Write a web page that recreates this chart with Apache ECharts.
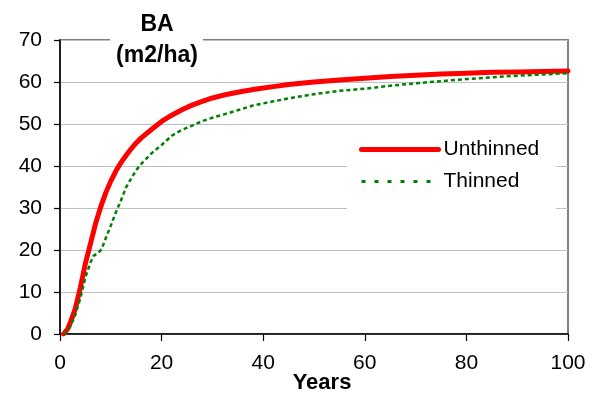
<!DOCTYPE html>
<html>
<head>
<meta charset="utf-8">
<script src="https://cdn.jsdelivr.net/npm/echarts@6/dist/echarts.min.js"></script>
<style>
  html, body { margin: 0; padding: 0; background: #fff; }
  #chart { width: 597px; height: 397px; }
</style>
</head>
<body>
<div id="chart"></div>
<script>
// Basal area (m2/ha) over stand age, unthinned vs thinned
const unthinnedYears = [0.7, 1.5, 2, 3, 4, 5, 6, 7, 8, 9, 10, 11, 12, 13, 14, 15, 16, 18, 20, 22, 24, 26, 28, 30, 33, 36, 39, 42, 45, 50, 55, 60, 65, 70, 75, 80, 85, 90, 95, 100];
const unthinnedBA    = [0, 1.2, 2.6, 6.0, 11.0, 16.8, 21.5, 26.3, 30.2, 33.6, 36.4, 38.8, 40.8, 42.5, 44.1, 45.5, 46.7, 48.7, 50.6, 52.1, 53.4, 54.5, 55.4, 56.2, 57.1, 57.8, 58.4, 58.9, 59.4, 60.0, 60.5, 60.9, 61.3, 61.6, 61.9, 62.1, 62.3, 62.4, 62.5, 62.6];

const thinnedYears = [0.7, 1.5, 2, 3, 4, 5, 6, 6.6, 7.5, 8.2, 9, 10, 11, 12, 13, 14, 15, 16, 18, 20, 22, 24, 26, 28, 30, 34, 38, 42, 46, 50, 55, 60, 65, 70, 75, 80, 86, 90, 95, 100];
const thinnedBA    = [0, 0.8, 1.7, 4.5, 8.5, 13.5, 17.0, 18.6, 19.3, 20.2, 22.8, 25.8, 29.0, 31.8, 34.9, 37.0, 39.0, 40.5, 43.0, 45.0, 47.2, 48.6, 49.6, 50.7, 51.5, 52.9, 54.4, 55.4, 56.3, 57.1, 57.9, 58.4, 59.1, 59.7, 60.2, 60.7, 61.2, 61.5, 61.8, 62.1];

const seriesNames = ['Unthinned', 'Thinned'];
const xTicks = [0, 20, 40, 60, 80, 100];
const yTicks = [0, 10, 20, 30, 40, 50, 60, 70];

const FONT = 'Liberation Sans, Arial, sans-serif';

function pairs(xs, ys) { return xs.map((x, i) => [x, ys[i]]); }

const chart = echarts.init(document.getElementById('chart'), null, { renderer: 'canvas' });

chart.setOption({
  animation: false,
  backgroundColor: '#ffffff',
  textStyle: { fontFamily: FONT },
  grid: {
    left: 60, right: 29, top: 40, bottom: 63,
    show: true, borderColor: '#808080', borderWidth: 2
  },
  xAxis: {
    type: 'value',
    min: xTicks[0], max: xTicks[xTicks.length - 1], interval: 20,
    axisLine: { lineStyle: { color: '#000', width: 1.5 } },
    axisTick: { inside: false, length: 7, lineStyle: { color: '#000', width: 1.2 } },
    axisLabel: { color: '#000', fontSize: 21, fontFamily: FONT, margin: 19 },
    splitLine: { show: false }
  },
  yAxis: {
    type: 'value',
    min: yTicks[0], max: yTicks[yTicks.length - 1], interval: 10,
    axisLine: { show: true, lineStyle: { color: '#000', width: 1.5 } },
    axisTick: { show: true, inside: false, length: 6, lineStyle: { color: '#000', width: 1.2 } },
    axisLabel: { color: '#000', fontSize: 21, fontFamily: FONT, margin: 18 },
    splitLine: { show: true, lineStyle: { color: '#c0c0c0', width: 1 } }
  },
  legend: {
    orient: 'vertical',
    left: 347, top: 125,
    backgroundColor: '#ffffff',
    padding: [14, 17, 19, 12],
    itemWidth: 77, itemHeight: 14, itemGap: 11,
    textStyle: { fontSize: 21, fontFamily: FONT, color: '#000', lineHeight: 20 },
    data: [
      { name: seriesNames[0], itemStyle: { opacity: 0 }, lineStyle: { color: '#ff0000', width: 5 } },
      { name: seriesNames[1], itemStyle: { opacity: 0 }, lineStyle: { color: '#008000', width: 3, type: [4, 9] } }
    ]
  },
  graphic: [
    {
      type: 'rect', z: 100,
      shape: { x: 110, y: 30, width: 93, height: 22 },
      style: { fill: '#ffffff' }
    },
    {
      type: 'text', z: 101,
      style: {
        text: 'BA\n(m2/ha)', x: 157, y: 40,
        align: 'center', verticalAlign: 'middle',
        font: 'bold 23px ' + FONT, lineHeight: 31, fill: '#000'
      }
    },
    {
      type: 'text', z: 101,
      style: {
        text: 'Years', x: 322, y: 383,
        align: 'center', verticalAlign: 'middle',
        font: 'bold 22px ' + FONT, fill: '#000'
      }
    }
  ],
  series: [
    {
      name: seriesNames[0], type: 'line',
      data: pairs(unthinnedYears, unthinnedBA),
      symbol: 'none', smooth: false,
      lineStyle: { color: '#ff0000', width: 5, join: 'round', cap: 'round' },
      itemStyle: { color: '#ff0000' }
    },
    {
      name: seriesNames[1], type: 'line',
      data: pairs(thinnedYears, thinnedBA),
      symbol: 'none', smooth: false,
      lineStyle: { color: '#008000', width: 2.5, type: [4, 3] },
      itemStyle: { color: '#008000' }
    }
  ]
});
</script>
</body>
</html>
